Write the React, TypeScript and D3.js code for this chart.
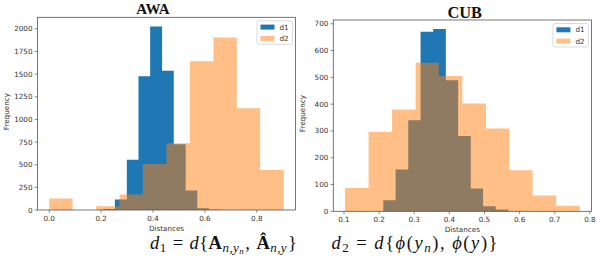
import React from "react";
import * as d3 from "d3";

// ---------- data ----------
const awaD1Edges = [0.208, 0.253, 0.299, 0.344, 0.389, 0.435, 0.480, 0.526, 0.571, 0.616, 0.662];
const awaD1Counts = [12, 116, 556, 1477, 2026, 1536, 725, 215, 20, 5];
const awaD2Edges = [0.0, 0.090, 0.181, 0.271, 0.361, 0.452, 0.542, 0.633, 0.723, 0.813, 0.904];
const awaD2Counts = [128, 0, 42, 170, 508, 738, 1643, 1904, 1123, 442];
const awaYTicks = [0, 250, 500, 750, 1000, 1250, 1500, 1750, 2000];
const awaXTicks = [0.0, 0.2, 0.4, 0.6, 0.8];

const cubD1Edges = [0.212, 0.247, 0.283, 0.318, 0.354, 0.390, 0.425, 0.461, 0.496, 0.532, 0.568];
const cubD1Counts = [41, 156, 340, 670, 680, 489, 281, 85, 19, 7];
const cubD2Edges = [0.103, 0.170, 0.237, 0.304, 0.370, 0.437, 0.504, 0.571, 0.637, 0.704, 0.771];
const cubD2Counts = [87, 296, 380, 554, 505, 402, 309, 153, 59, 21];
const cubYTicks = [0, 100, 200, 300, 400, 500, 600, 700];
const cubXTicks = [0.1, 0.2, 0.3, 0.4, 0.5, 0.6, 0.7, 0.8];

const seriesNames = ["d1", "d2"];

const BLUE = "#1f77b4";
const ORANGE = "#ff7f0e";
const TICK_FONT = "'DejaVu Sans', sans-serif";
const TEXT_COLOR = "#333";

type PanelProps = {
  left: number; right: number; top: number; bottom: number;
  d1Edges: number[]; d1Counts: number[];
  d2Edges: number[]; d2Counts: number[];
  yTicks: number[]; xTicks: number[];
  xFmt: (v: number) => string;
  title: string; titleX: number; titleY: number; titleSize: number;
};

function Panel(p: PanelProps) {
  const allEdges = [...p.d1Edges, ...p.d2Edges];
  const [xmin, xmax] = d3.extent(allEdges) as [number, number];
  const pad = (xmax - xmin) * 0.05;
  const ymax = (d3.max([...p.d1Counts, ...p.d2Counts]) as number) * 1.05;
  const x = d3.scaleLinear().domain([xmin - pad, xmax + pad]).range([p.left, p.right]);
  const y = d3.scaleLinear().domain([0, ymax]).range([p.bottom, p.top]);

  const histPath = (edges: number[], counts: number[]) => {
    const path = d3.path();
    path.moveTo(x(edges[0]), y(0));
    counts.forEach((c, i) => {
      path.lineTo(x(edges[i]), y(c));
      path.lineTo(x(edges[i + 1]), y(c));
    });
    path.lineTo(x(edges[edges.length - 1]), y(0));
    path.closePath();
    return path.toString();
  };

  const legW = 35.5, legH = 23.5;
  const legX = p.right - 3 - legW;
  const legY = p.top + 3.5;

  return (
    <g>
      <text x={p.titleX} y={p.titleY} textAnchor="middle" fontFamily="'Liberation Serif', 'Times New Roman', serif"
        fontWeight="bold" fontSize={p.titleSize} fill="#111">{p.title}</text>
      <path d={histPath(p.d1Edges, p.d1Counts)} fill={BLUE} />
      <path d={histPath(p.d2Edges, p.d2Counts)} fill={ORANGE} fillOpacity={0.5} />
      <rect x={p.left} y={p.top} width={p.right - p.left} height={p.bottom - p.top}
        fill="none" stroke="#555" strokeWidth={0.8} />
      {p.yTicks.map((t) => (
        <g key={"y" + t}>
          <line x1={p.left - 2.8} x2={p.left} y1={y(t)} y2={y(t)} stroke="#555" strokeWidth={0.7} />
          <text x={p.left - 5} y={y(t)} dy="0.35em" textAnchor="end" fontFamily={TICK_FONT}
            fontSize={7.2} fill={TEXT_COLOR}>{t}</text>
        </g>
      ))}
      {p.xTicks.map((t) => (
        <g key={"x" + t}>
          <line x1={x(t)} x2={x(t)} y1={p.bottom} y2={p.bottom + 2.8} stroke="#555" strokeWidth={0.7} />
          <text x={x(t)} y={p.bottom + 11} textAnchor="middle" fontFamily={TICK_FONT}
            fontSize={7.2} fill={TEXT_COLOR}>{p.xFmt(t)}</text>
        </g>
      ))}
      <text x={(p.left + p.right) / 2} y={p.bottom + 21} textAnchor="middle" fontFamily={TICK_FONT}
        fontSize={7.2} fill={TEXT_COLOR}>Distances</text>
      <text transform={`translate(${p.left - 28.5},${(p.top + p.bottom) / 2 - 2}) rotate(-90)`}
        textAnchor="middle" fontFamily={TICK_FONT} fontSize={7.2} fill={TEXT_COLOR}>Frequency</text>
      <g>
        <rect x={legX} y={legY} width={legW} height={legH} rx={2} fill="#fff" fillOpacity={0.8}
          stroke="#ccc" strokeWidth={0.7} />
        {seriesNames.map((n, i) => (
          <g key={n}>
            <rect x={legX + 3.5} y={legY + 3.8 + i * 11.3} width={14} height={5}
              fill={i === 0 ? BLUE : ORANGE} fillOpacity={i === 0 ? 1 : 0.5} />
            <text x={legX + 22.5} y={legY + 6.3 + i * 11.3} dy="0.35em" fontFamily={TICK_FONT}
              fontSize={7.2} fill={TEXT_COLOR}>{n}</text>
          </g>
        ))}
      </g>
    </g>
  );
}

const MATH_FONT = "'Liberation Serif', 'DejaVu Serif', serif";

export default function App() {
  return (
    <svg width={598} height={269} style={{ position: "absolute", left: 0, top: 0, background: "#fff" }}
      xmlns="http://www.w3.org/2000/svg">
      <rect width={598} height={269} fill="#fff" />
      <Panel left={37.5} right={295.5} top={17.3} bottom={210}
        d1Edges={awaD1Edges} d1Counts={awaD1Counts} d2Edges={awaD2Edges} d2Counts={awaD2Counts}
        yTicks={awaYTicks} xTicks={awaXTicks} xFmt={d3.format(".1f")}
        title="AWA" titleX={153} titleY={14} titleSize={15} />
      <Panel left={333.3} right={591.4} top={20} bottom={211.3}
        d1Edges={cubD1Edges} d1Counts={cubD1Counts} d2Edges={cubD2Edges} d2Counts={cubD2Counts}
        yTicks={cubYTicks} xTicks={cubXTicks} xFmt={d3.format(".1f")}
        title="CUB" titleX={464.7} titleY={17.5} titleSize={16.4} />
      <text x={150} y={249} fontFamily={MATH_FONT} fontSize={18.5} fill="#111"
        textLength={147} lengthAdjust="spacing">
        <tspan fontStyle="italic">d</tspan>
        <tspan fontSize={13} dy={3}>1</tspan>
        <tspan dy={-3} dx={6}>=</tspan>
        <tspan dx={6} fontStyle="italic">d</tspan>
        <tspan>{"{"}</tspan>
        <tspan fontWeight="bold">A</tspan>
        <tspan fontSize={13} fontStyle="italic" dy={3}>n,y</tspan>
        <tspan fontSize={9} fontStyle="italic" dy={2}>n</tspan>
        <tspan dy={-5} dx={1}>,</tspan>
        <tspan dx={6} fontWeight="bold">Â</tspan>
        <tspan fontSize={13} fontStyle="italic" dy={3}>n,y</tspan>
        <tspan dy={-3} dx={1}>{"}"}</tspan>
      </text>
      <text x={331.5} y={249} fontFamily={MATH_FONT} fontSize={18.5} fill="#111"
        textLength={166} lengthAdjust="spacing">
        <tspan fontStyle="italic">d</tspan>
        <tspan fontSize={13} dy={3}>2</tspan>
        <tspan dy={-3} dx={6}>=</tspan>
        <tspan dx={6} fontStyle="italic">d</tspan>
        <tspan>{"{"}</tspan>
        <tspan fontStyle="italic">ϕ</tspan>
        <tspan>(</tspan>
        <tspan fontStyle="italic">y</tspan>
        <tspan fontSize={13} fontStyle="italic" dy={3}>n</tspan>
        <tspan dy={-3}>),</tspan>
        <tspan dx={6} fontStyle="italic">ϕ</tspan>
        <tspan>(</tspan>
        <tspan fontStyle="italic">y</tspan>
        <tspan>{")}"}</tspan>
      </text>
    </svg>
  );
}
